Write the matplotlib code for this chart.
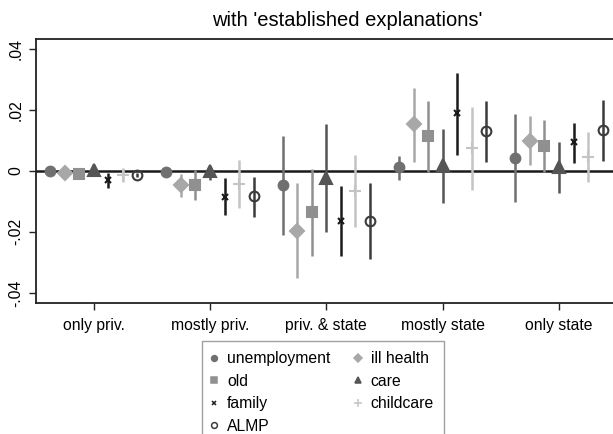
import matplotlib.pyplot as plt
import numpy as np

plt.rcParams['font.family'] = ['Liberation Sans', 'DejaVu Sans']

categories = ['only priv.', 'mostly priv.', 'priv. & state', 'mostly state', 'only state']
series = ['unemployment', 'ill health', 'old', 'care', 'family', 'childcare', 'ALMP']

# point estimates per category, one list per series
est = {
    'unemployment': [0.0, -0.0004, -0.0047, 0.0013, 0.0043],
    'ill health':   [-0.0008, -0.0047, -0.0198, 0.0154, 0.0099],
    'old':          [-0.001, -0.0047, -0.0136, 0.0114, 0.0083],
    'care':         [0.0003, 0.0001, -0.0023, 0.002, 0.0014],
    'family':       [-0.0028, -0.0084, -0.0165, 0.0189, 0.0094],
    'childcare':    [-0.0012, -0.0042, -0.0065, 0.0074, 0.0047],
    'ALMP':         [-0.0012, -0.0083, -0.0165, 0.0132, 0.0134],
}
lo = {
    'unemployment': [0.0, -0.0004, -0.0209, -0.0028, -0.0102],
    'ill health':   [-0.0008, -0.0086, -0.0352, 0.003, 0.002],
    'old':          [-0.001, -0.0094, -0.0278, -0.0004, -0.0004],
    'care':         [0.0003, -0.0028, -0.0199, -0.0105, -0.0072],
    'family':       [-0.0055, -0.0146, -0.0278, 0.0052, 0.0026],
    'childcare':    [-0.0035, -0.0121, -0.0184, -0.0062, -0.0035],
    'ALMP':         [-0.002, -0.015, -0.0289, 0.003, 0.0033],
}
hi = {
    'unemployment': [0.0, -0.0004, 0.0116, 0.0049, 0.0187],
    'ill health':   [-0.0008, -0.001, -0.0039, 0.0274, 0.0179],
    'old':          [-0.001, 0.0003, 0.0007, 0.023, 0.0167],
    'care':         [0.0003, 0.0017, 0.0154, 0.0138, 0.0094],
    'family':       [-0.0007, -0.0023, -0.0048, 0.0322, 0.0156],
    'childcare':    [0.0009, 0.0036, 0.0052, 0.021, 0.0128],
    'ALMP':         [-0.0005, -0.002, -0.0039, 0.023, 0.0233],
}

styles = {
    'unemployment': dict(marker='o', color='#707070', ms=7, mfc='#707070'),
    'ill health':   dict(marker='D', color='#a8a8a8', ms=7, mfc='#a8a8a8'),
    'old':          dict(marker='s', color='#909090', ms=7, mfc='#909090'),
    'care':         dict(marker='^', color='#555555', ms=8, mfc='#555555'),
    'family':       dict(marker='x', color='#1a1a1a', ms=5, mfc='#1a1a1a'),
    'childcare':    dict(marker='+', color='#c4c4c4', ms=9, mfc='#c4c4c4'),
    'ALMP':         dict(marker='o', color='#3c3c3c', ms=7, mfc='none'),
}

fig = plt.figure(figsize=(6.13, 4.34), dpi=100)
ax = fig.add_axes([0.058, 0.302, 0.945, 0.608])

x = np.arange(1, len(categories) + 1)
for i, s in enumerate(series):
    xi = x + (i - 3) * 0.125
    st = styles[s]
    ax.vlines(xi, lo[s], hi[s], color=st['color'], lw=1.8, zorder=2)
    ax.plot(xi, est[s], ls='none', marker=st['marker'], ms=st['ms'],
            color=st['color'], mfc=st['mfc'], mew=1.5, zorder=3)

ax.axhline(0, color='#1a1a1a', lw=1.8, zorder=1)

ax.set_xlim(0.5, 5.48)
ax.set_ylim(-0.0433, 0.0433)
ax.set_xticks(x)
ax.set_xticklabels(categories, fontsize=11.3)
ax.set_yticks([-0.04, -0.02, 0, 0.02, 0.04])
ax.set_yticklabels(['-.04', '-.02', '0', '.02', '.04'], rotation=90, va='center', fontsize=11.3)
ax.tick_params(length=5, width=1, color='#222222')
ax.tick_params(axis='x', pad=6)
ax.spines['right'].set_visible(False)
for sp in ['left', 'bottom', 'top']:
    ax.spines[sp].set_linewidth(1.3)
    ax.spines[sp].set_color('#222222')
fig.text(0.566, 0.953, "with 'established explanations'", fontsize=14.5,
         ha='center', va='center')

order = ['unemployment', 'old', 'family', 'ALMP', 'ill health', 'care', 'childcare']
leg_handles = []
for s in order:
    st = styles[s]
    lh, = ax.plot([], [], ls='none', marker=st['marker'], ms=st['ms'] * 0.6,
                  color=st['color'], mfc=st['mfc'], mew=1.1)
    leg_handles.append(lh)
leg = fig.legend(leg_handles, order, ncol=2, loc='upper left',
                 bbox_to_anchor=(0.3295, 0.214), borderaxespad=0,
                 fontsize=11.3, frameon=True,
                 fancybox=False, edgecolor='#888888', handlelength=0.3,
                 handletextpad=0.66, columnspacing=1.6, labelspacing=0.48,
                 borderpad=0.64)
leg.get_frame().set_linewidth(1.0)

fig.savefig('out.png', dpi=100)
